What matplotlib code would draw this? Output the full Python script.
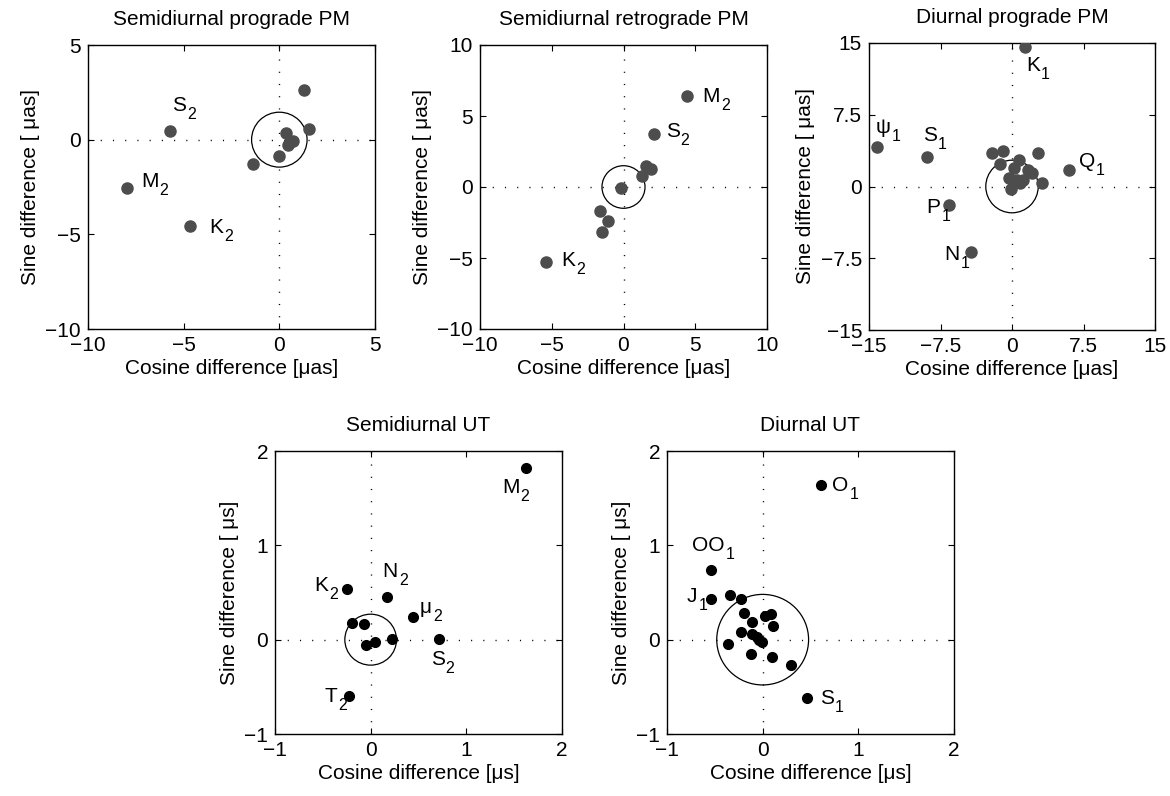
import numpy as np
import matplotlib
matplotlib.use('Agg')
import matplotlib.pyplot as plt
from matplotlib.patches import Circle

plt.rcParams['font.family'] = ['Liberation Sans', 'DejaVu Sans']
plt.rcParams['font.size'] = 15

# ---- data ----
# Semidiurnal prograde PM [uas]
sp_x = [-7.95, -5.7, -4.65, -1.4, 0.0, 0.35, 0.55, 0.7, 0.45, 1.3, 1.55]
sp_y = [-2.55, 0.45, -4.55, -1.3, -0.85, 0.35, -0.1, -0.05, -0.3, 2.6, 0.58]
sp_lab = [('S', '2'), ('M', '2'), ('K', '2')]
sp_lab_x = [-5.62, -7.23, -3.66]
sp_lab_y = [1.49, -2.51, -4.92]
sp_r = 1.45

# Semidiurnal retrograde PM [uas]
sr_x = [4.4, 2.1, 1.55, 1.9, 1.3, -0.2, -1.65, -1.1, -1.5, -5.4]
sr_y = [6.4, 3.7, 1.45, 1.25, 0.75, -0.1, -1.7, -2.4, -3.2, -5.3]
sr_lab = [('M', '2'), ('S', '2'), ('K', '2')]
sr_lab_x = [5.49, 2.94, -4.31]
sr_lab_y = [6.02, 3.51, -5.53]
sr_r = 1.5

# Diurnal prograde PM [uas]
dp_x = [1.4, -14.2, -8.9, 6.0, -6.6, -4.3, -2.1, -0.9, 2.75, 0.75, -1.25,
        0.25, 1.65, 2.15, -0.3, 0.5, 1.2, 0.85, 3.1, -0.1]
dp_y = [14.55, 4.1, 3.1, 1.75, -1.9, -6.8, 3.55, 3.7, 3.45, 2.8, 2.3,
        1.95, 1.75, 1.4, 0.9, 0.65, 0.7, 0.35, 0.4, -0.3]
dp_lab = [('K', '1'), ('ψ', '1'), ('S', '1'), ('Q', '1'), ('P', '1'), ('N', '1')]
dp_lab_x = [1.47, -14.27, -9.38, 6.99, -8.96, -7.1]
dp_lab_y = [12.12, 5.64, 4.77, 2.08, -2.75, -7.64]
dp_r = 2.75

# Semidiurnal UT [us]
su_x = [1.625, -0.25, 0.17, 0.44, 0.71, -0.23, -0.19, -0.07, 0.225, 0.05, -0.05]
su_y = [1.82, 0.54, 0.45, 0.245, 0.01, -0.6, 0.18, 0.165, 0.01, -0.02, -0.06]
su_lab = [('M', '2'), ('K', '2'), ('N', '2'), ('μ', '2'), ('S', '2'), ('T', '2')]
su_lab_x = [1.375, -0.59, 0.125, 0.515, 0.627, -0.478]
su_lab_y = [1.557, 0.52, 0.66, 0.285, -0.27, -0.66]
su_r = 0.27

# Diurnal UT [us]
du_x = [0.61, -0.54, -0.54, 0.46, -0.34, -0.23, -0.2, 0.02, 0.09, -0.11,
        0.11, -0.23, -0.11, -0.06, -0.01, -0.36, -0.12, 0.1, 0.3, -0.04]
du_y = [1.64, 0.74, 0.43, -0.62, 0.47, 0.435, 0.28, 0.255, 0.27, 0.185,
        0.14, 0.08, 0.06, 0.03, -0.02, -0.045, -0.155, -0.18, -0.27, 0.0]
du_lab = [('O', '1'), ('OO', '1'), ('J', '1'), ('S', '1')]
du_lab_x = [0.725, -0.74, -0.79, 0.595]
du_lab_y = [1.58, 0.94, 0.40, -0.68]
du_r = 0.48

fig = plt.figure(figsize=(11.7, 7.96), dpi=100)
renderer = fig.canvas.get_renderer()


def panel(rect, x, y, labs, lx, ly, r, lim, ticks, title, unit, col, ms):
    ax = fig.add_axes(rect)
    ax.axhline(0, color='k', lw=1.0, ls=(0, (0.8, 8)), zorder=1)
    ax.axvline(0, color='k', lw=1.0, ls=(0, (0.8, 8)), zorder=1)
    ax.add_patch(Circle((0, 0), r, fill=False, ec='k', lw=0.9, zorder=2))
    ax.plot(x, y, 'o', color=col, ms=ms, mec=col, zorder=3)
    ax.set_xlim(lim)
    ax.set_ylim(lim)
    for (main, sub), tx, ty in zip(labs, lx, ly):
        t = ax.text(tx, ty, main, ha='left', va='baseline', fontsize=15, zorder=4)
        w = t.get_window_extent(renderer).width
        ax.annotate(sub, xy=(tx, ty), xycoords='data', xytext=(w + 1, -8),
                    textcoords='offset pixels', ha='left', va='baseline',
                    fontsize=11.5, zorder=4)
    ax.set_xticks(ticks)
    ax.set_yticks(ticks)
    ax.set_xticklabels([f'{v:g}'.replace('-', '\u2212') for v in ticks])
    ax.set_yticklabels([f'{v:g}'.replace('-', '\u2212') for v in ticks])
    ax.tick_params(direction='in', top=True, right=True, length=4, width=0.8,
                   labelsize=15, pad=5)
    for s in ax.spines.values():
        s.set_linewidth(1.0)
    ax.set_title(title, fontsize=15, pad=14.5)
    ax.set_xlabel(f'Cosine difference [{unit}]', fontsize=15, labelpad=3)
    ax.set_ylabel(f'Sine difference [ {unit}]', fontsize=15, labelpad=4)
    return ax


gray = '#4d4d4d'
panel([88/1170, 1-329/796, 287/1170, 284/796], sp_x, sp_y, sp_lab, sp_lab_x, sp_lab_y,
      sp_r, (-10, 5), [-10, -5, 0, 5], 'Semidiurnal prograde PM', 'μas', gray, 8)
panel([480/1170, 1-329/796, 287/1170, 284/796], sr_x, sr_y, sr_lab, sr_lab_x, sr_lab_y,
      sr_r, (-10, 10), [-10, -5, 0, 5, 10], 'Semidiurnal retrograde PM', 'μas', gray, 8)
panel([869/1170, 1-330/796, 286/1170, 287/796], dp_x, dp_y, dp_lab, dp_lab_x, dp_lab_y,
      dp_r, (-15, 15), [-15, -7.5, 0, 7.5, 15], 'Diurnal prograde PM', 'μas', gray, 8)
panel([275/1170, 1-734/796, 287/1170, 283/796], su_x, su_y, su_lab, su_lab_x, su_lab_y,
      su_r, (-1, 2), [-1, 0, 1, 2], 'Semidiurnal UT', 'μs', 'k', 7)
panel([667/1170, 1-734/796, 287/1170, 283/796], du_x, du_y, du_lab, du_lab_x, du_lab_y,
      du_r, (-1, 2), [-1, 0, 1, 2], 'Diurnal UT', 'μs', 'k', 7)

fig.savefig('out.png', dpi=100)
